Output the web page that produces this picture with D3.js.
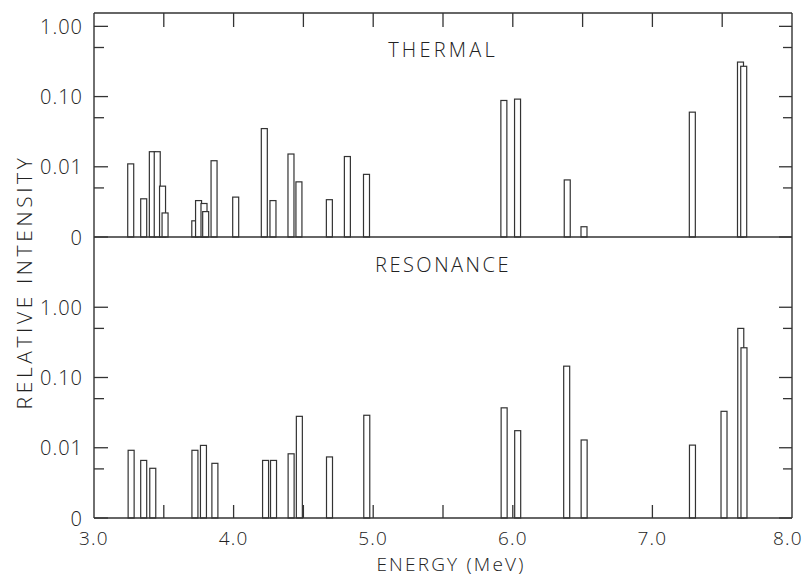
<!DOCTYPE html>
<meta charset="utf-8" />
<script src="https://d3js.org/d3.v7.min.js"></script>
<style>
	body { margin: 0; background: #fff; }
	text { font-family: "Open Sans", "DejaVu Sans", sans-serif; font-weight: 300; fill: #222; }
</style>
<div id="my_dataviz"></div>

<script>
	// energies (MeV) and relative intensities
	var thermalEnergy = [3.263, 3.356, 3.418, 3.453, 3.491, 3.509, 3.722, 3.749, 3.788, 3.800, 3.860, 4.015, 4.220,
		4.282, 4.411, 4.468, 4.686, 4.815, 4.952, 5.936, 6.034, 6.390, 6.510, 7.286, 7.631, 7.654];
	var thermalIntensity = [0.011, 0.0035, 0.0164, 0.0164, 0.0053, 0.0022, 0.0017, 0.0033, 0.0030, 0.0023, 0.0122, 0.0037, 0.035,
		0.0033, 0.0152, 0.0061, 0.0034, 0.014, 0.0078, 0.088, 0.092, 0.0065, 0.0014, 0.060, 0.31, 0.27];

	var resonanceEnergy = [3.266, 3.356, 3.421, 3.723, 3.784, 3.866, 4.229, 4.286, 4.412, 4.471, 4.687, 4.954,
		5.938, 6.035, 6.386, 6.511, 7.287, 7.513, 7.633, 7.656];
	var resonanceIntensity = [0.0092, 0.0066, 0.0051, 0.0092, 0.0108, 0.0060, 0.0066, 0.0066, 0.0082, 0.028, 0.0074, 0.029,
		0.037, 0.0175, 0.145, 0.0129, 0.0109, 0.033, 0.50, 0.265];

	// axis ticks
	var majorTicks = [1, 0.1, 0.01, 0.001];
	var majorLabels = ["1.00", "0.10", "0.01", "0"];
	var minorTicks = [0.5, 0.05, 0.005];
	var xLabelTicks = [3.0, 4.0, 5.0, 6.0, 7.0, 8.0];
	var xSmallTicks = [3.5, 4.0, 4.5, 5.0, 5.5, 6.0, 6.5, 7.0, 7.5];

	var stroke = "#333";
	var plotLeft = 94, plotRight = 792, plotTop = 13, plotMid = 237, plotBottom = 518;

	var svg = d3.select("#my_dataviz")
		.append("svg")
		.attr("width", 807)
		.attr("height", 576);

	var x = d3.scaleLinear().domain([3.0, 8.0]).range([plotLeft, plotRight]);

	// each panel is its own log scale, "0" sits at 0.001
	var yTop = d3.scaleLog().domain([0.001, 1.55]).range([plotMid, plotTop]);
	var yBottom = d3.scaleLog().domain([0.001, 10]).range([plotBottom, plotMid]);

	function panel(y, energy, intensity, name, nameY, spacing) {
		var g = svg.append("g");

		// y ticks on left and right, pointing inward
		majorTicks.forEach(function (t, i) {
			var yy = y(t);
			g.append("line").attr("x1", plotLeft).attr("x2", plotLeft + 14).attr("y1", yy).attr("y2", yy)
				.attr("stroke", stroke).attr("stroke-width", 1.3);
			g.append("line").attr("x1", plotRight - 13).attr("x2", plotRight).attr("y1", yy).attr("y2", yy)
				.attr("stroke", stroke).attr("stroke-width", 1.3);
			g.append("text")
				.attr("x", 83)
				.attr("y", yy + 7.5)
				.attr("text-anchor", "end")
				.attr("font-size", 20)
				.attr("letter-spacing", 1)
				.text(majorLabels[i]);
		});
		minorTicks.forEach(function (t) {
			var yy = y(t);
			g.append("line").attr("x1", plotLeft).attr("x2", plotLeft + 10).attr("y1", yy).attr("y2", yy)
				.attr("stroke", stroke).attr("stroke-width", 1.3);
			g.append("line").attr("x1", plotRight - 9).attr("x2", plotRight).attr("y1", yy).attr("y2", yy)
				.attr("stroke", stroke).attr("stroke-width", 1.3);
		});

		// bars: outlined rectangles standing on the "0" line
		var base = y(0.001);
		g.selectAll("rect.bar")
			.data(d3.zip(energy, intensity))
			.join("rect")
			.attr("class", "bar")
			.attr("x", d => x(d[0]) - 3)
			.attr("width", 6)
			.attr("y", d => y(d[1]))
			.attr("height", d => base - y(d[1]))
			.attr("fill", "#fff")
			.attr("stroke", stroke)
			.attr("stroke-width", 1.2);

		// panel title
		g.append("text")
			.attr("x", 443)
			.attr("y", nameY)
			.attr("text-anchor", "middle")
			.attr("font-size", 20)
			.attr("letter-spacing", spacing)
			.text(name);
	}

	// small x ticks along top frame and bottom axis
	svg.append("g").selectAll("line")
		.data(xSmallTicks)
		.join("line")
		.attr("x1", d => x(d)).attr("x2", d => x(d))
		.attr("y1", plotTop).attr("y2", plotTop + 14)
		.attr("stroke", stroke).attr("stroke-width", 1.3);
	svg.append("g").selectAll("line")
		.data(xSmallTicks)
		.join("line")
		.attr("x1", d => x(d)).attr("x2", d => x(d))
		.attr("y1", plotBottom).attr("y2", plotBottom - 13)
		.attr("stroke", stroke).attr("stroke-width", 1.3);

	panel(yTop, thermalEnergy, thermalIntensity, "THERMAL", 57, 3.2);
	panel(yBottom, resonanceEnergy, resonanceIntensity, "RESONANCE", 272, 2.5);

	// frame and divider
	var frame = svg.append("g").attr("fill", "none").attr("stroke", stroke).attr("stroke-width", 1.4);
	frame.append("line").attr("x1", plotLeft).attr("x2", plotRight).attr("y1", plotTop).attr("y2", plotTop);
	frame.append("line").attr("x1", plotLeft).attr("x2", plotRight).attr("y1", plotMid).attr("y2", plotMid);
	frame.append("line").attr("x1", plotLeft).attr("x2", plotRight).attr("y1", plotBottom).attr("y2", plotBottom);
	frame.append("line").attr("x1", plotLeft).attr("x2", plotLeft).attr("y1", plotTop).attr("y2", plotBottom);
	frame.append("line").attr("x1", plotRight).attr("x2", plotRight).attr("y1", plotTop).attr("y2", plotBottom);

	// x tick labels
	svg.append("g").selectAll("text")
		.data(xLabelTicks)
		.join("text")
		.attr("x", d => Math.min(x(d), 788))
		.attr("y", 545)
		.attr("text-anchor", "middle")
		.attr("font-size", 19)
		.attr("letter-spacing", 1.2)
		.text(d => d.toFixed(1));

	// axis titles
	svg.append("text")
		.attr("x", 451)
		.attr("y", 571)
		.attr("text-anchor", "middle")
		.attr("font-size", 19)
		.attr("letter-spacing", 2.2)
		.text("ENERGY (MeV)");

	svg.append("text")
		.attr("transform", "translate(32,282) rotate(-90)")
		.attr("text-anchor", "middle")
		.attr("font-size", 21)
		.attr("letter-spacing", 3.6)
		.text("RELATIVE INTENSITY");
</script>
